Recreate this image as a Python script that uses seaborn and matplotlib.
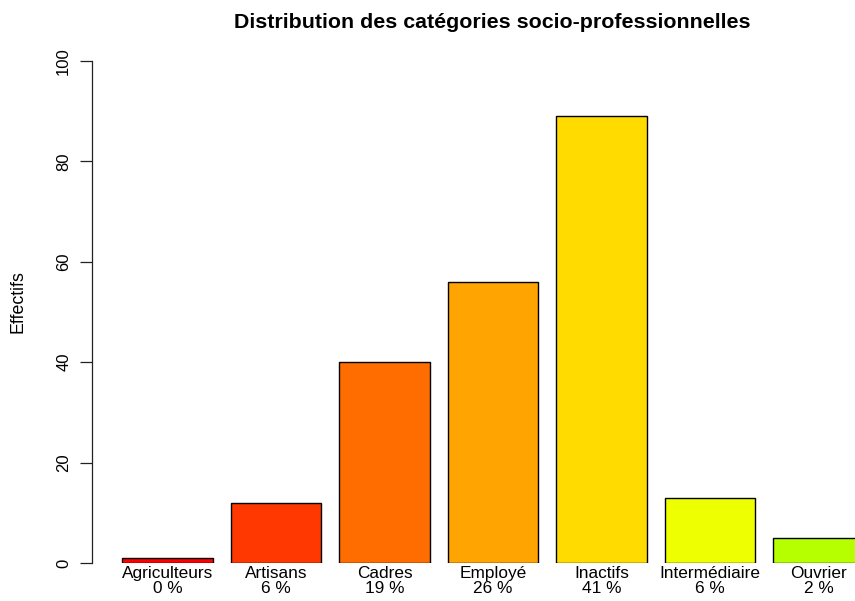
import matplotlib
matplotlib.use("Agg")
import matplotlib.pyplot as plt
import seaborn as sns
import pandas as pd

categories = ["Agriculteurs", "Artisans", "Cadres", "Employé", "Inactifs", "Intermédiaire", "Ouvrier"]
counts = [1, 12, 40, 56, 89, 13, 5]
bar_colors = ["#FF0000", "#FF3700", "#FF6D00", "#FFA400", "#FFDB00", "#EDFF00", "#B6FF00"]
y_ticks = [0, 20, 40, 60, 80, 100]

total = sum(counts)
pct = [round(100 * v / total) for v in counts]
tick_labels = [f"{c}\n{p} %" for c, p in zip(categories, pct)]

df = pd.DataFrame({"cat": categories, "n": counts})

sns.set_style("white")
plt.rcParams["font.family"] = ["Liberation Sans", "DejaVu Sans"]
plt.rcParams["text.color"] = "black"

W, H = 855, 601
fig = plt.figure(figsize=(W / 100, H / 100), dpi=100)
left, right, top, bottom = 92, 855, 61, 563
ax = fig.add_axes([left / W, 1 - bottom / H, (right - left) / W, (bottom - top) / H])

sns.barplot(data=df, x="cat", y="n", hue="cat", palette=bar_colors, legend=False,
            width=1 / 1.2, edgecolor="black", linewidth=1.0, saturation=1, ax=ax)

ax.set_xlim(-(167.5 - left) / 108.5, (right - 167.5) / 108.5)
ax.set_ylim(0, 100)
ax.set_yticks(y_ticks)
ax.set_yticklabels([str(t) for t in y_ticks], rotation=90, va="center", fontsize=12, color="black")
ax.set_xticks(range(len(categories)))
ax.set_xticklabels(tick_labels, fontsize=12.4, linespacing=1.0, color="black")
ax.tick_params(axis="x", length=0, pad=2.5)
ax.tick_params(axis="y", length=9, width=0.9, pad=6, left=True, color="#222222")
for s in ["top", "right", "bottom"]:
    ax.spines[s].set_visible(False)
ax.spines["left"].set_linewidth(0.9)
ax.spines["left"].set_color("#222222")
ax.set_xlabel("")
ax.set_ylabel("")

fig.text(18 / W, 1 - 302 / H, "Effectifs", rotation=90, ha="center", va="center",
         fontsize=12.8, color="black")
fig.text(492 / W, 1 - 22 / H, "Distribution des catégories socio-professionnelles",
         ha="center", va="center", fontsize=15.4, fontweight="bold", color="black")

fig.savefig("out.png", dpi=100)
